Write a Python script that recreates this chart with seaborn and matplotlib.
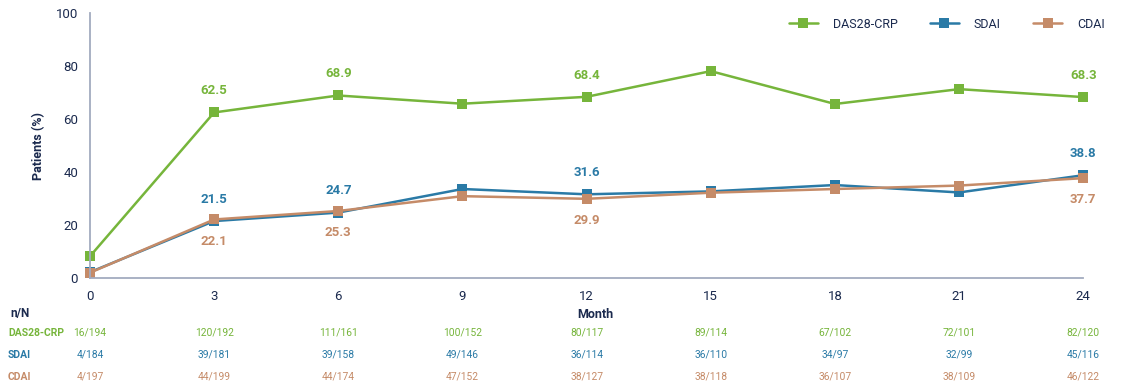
import matplotlib
matplotlib.use("Agg")
import matplotlib.pyplot as plt
import matplotlib.transforms as mtransforms
import seaborn as sns
import pandas as pd

months = [0, 3, 6, 9, 12, 15, 18, 21, 24]
series_names = ["DAS28-CRP", "SDAI", "CDAI"]
das28 = [8.2, 62.5, 68.9, 65.8, 68.4, 78.1, 65.7, 71.3, 68.3]
sdai = [2.2, 21.5, 24.7, 33.6, 31.6, 32.7, 35.1, 32.3, 38.8]
cdai = [2.0, 22.1, 25.3, 30.9, 29.9, 32.2, 33.6, 34.9, 37.7]
das28_nN = ["16/194", "120/192", "111/161", "100/152", "80/117", "89/114", "67/102", "72/101", "82/120"]
sdai_nN = ["4/184", "39/181", "39/158", "49/146", "36/114", "36/110", "34/97", "32/99", "45/116"]
cdai_nN = ["4/197", "44/199", "44/174", "47/152", "38/127", "38/118", "36/107", "38/109", "46/122"]
labeled_months = [3, 6, 12, 24]

colors = {"DAS28-CRP": "#76b53b", "SDAI": "#2a7aa6", "CDAI": "#c58b68"}
navy = "#1b2a4e"

sns.set_style("white")
plt.rcParams["font.family"] = ["Roboto", "DejaVu Sans"]

rows = []
for name, vals in zip(series_names, [das28, sdai, cdai]):
    for m, v in zip(months, vals):
        rows.append({"Month": m, "Pct": v, "Measure": name})
df = pd.DataFrame(rows)

fig = plt.figure(figsize=(11.43, 3.89), dpi=100)
ax = fig.add_axes([0.0787, 0.2853, 0.869, 0.681])

sns.lineplot(data=df, x="Month", y="Pct", hue="Measure", style="Measure",
             markers=["s", "s", "s"], dashes=False, palette=colors,
             hue_order=series_names, style_order=series_names,
             markersize=7, linewidth=1.8, markeredgewidth=0, ax=ax)
for ln in ax.lines:
    ln.set_clip_on(False)

ax.set_xlim(0, 24)
ax.set_ylim(0, 100)
ax.set_xticks(months)
ax.set_yticks([0, 20, 40, 60, 80, 100])
ax.tick_params(axis="both", colors=navy, labelsize=9.5, length=5, width=1)
for s in ["top", "right"]:
    ax.spines[s].set_visible(False)
for s in ["left", "bottom"]:
    ax.spines[s].set_color("#a3abbf")
    ax.spines[s].set_linewidth(1.3)
ax.set_xlabel("")
ax.set_ylabel("Patients (%)", fontsize=9, fontweight="bold", color=navy, labelpad=8)

# value labels
for name, vals, off, va in [("DAS28-CRP", das28, 11, "bottom"),
                            ("SDAI", sdai, 11, "bottom"),
                            ("CDAI", cdai, -11, "top")]:
    for m, v in zip(months, vals):
        if m in labeled_months:
            ax.annotate(f"{v:.1f}", (m, v), xytext=(0, off), textcoords="offset points",
                        ha="center", va=va, fontsize=9.5, fontweight="bold",
                        color=colors[name])

# legend
leg = ax.legend(ncol=3, loc="upper right", bbox_to_anchor=(1.033, 1.025), frameon=False,
                handlelength=2.3, columnspacing=2.6, handletextpad=1.2, fontsize=9)
for t in leg.get_texts():
    t.set_color(navy)

# table below
trans = mtransforms.blended_transform_factory(ax.transData, ax.transAxes)
fig.text(595 / 1143, 1 - 314 / 389, "Month", ha="center", va="center",
         fontsize=9, fontweight="bold", color=navy)
fig.text(10 / 1143, 1 - 313 / 389, "n/N", ha="left", va="center",
         fontsize=8.5, fontweight="bold", color=navy)
row_y = [333, 355, 377]
for name, nN, yp in zip(series_names, [das28_nN, sdai_nN, cdai_nN], row_y):
    fy = 1 - yp / 389
    fig.text(8 / 1143, fy, name, ha="left", va="center", fontsize=7.5,
             fontweight="bold", color=colors[name])
    ay = (278 - yp) / 265
    for m, s in zip(months, nN):
        ax.text(m, ay, s, transform=trans, ha="center", va="center",
                fontsize=7.4, color=colors[name], clip_on=False)

fig.savefig("out.png", dpi=100)
